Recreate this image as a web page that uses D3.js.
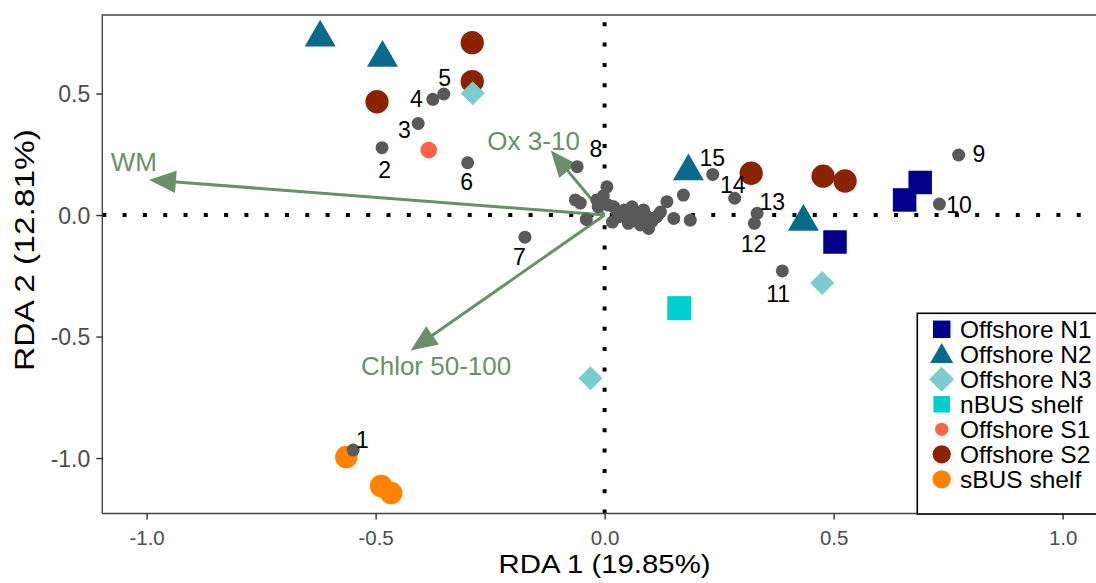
<!DOCTYPE html>
<html><head><meta charset="utf-8">
<script src="https://cdn.jsdelivr.net/npm/d3@7"></script>
<style>
body{margin:0;background:#fff;overflow:hidden}
svg{display:block}
text{font-family:"Liberation Sans",Arial,sans-serif}
</style>
</head><body>
<svg id="chart" width="1096" height="583"></svg>
<script>
// ---------- data ----------
const groups = ["Offshore N1","Offshore N2","Offshore N3","nBUS shelf","Offshore S1","Offshore S2","sBUS shelf"];
const groupColors = ["#00008b","#0a6a8c","#79cdcd","#00ced1","#ff6347","#8b2300","#ff8200"];
const groupShapes = ["square","triangle","diamond","square","circle","circle","circle"];

// site scores (RDA1, RDA2) with group index
const siteGroup = [0,0,0, 1,1,1,1, 3, 4, 5,5,5,5,5,5, 6,6,6, 2,2,2];
const siteX = [0.655,0.689,0.503, -0.621,-0.485,0.183,0.434, 0.163, -0.384, -0.289,-0.289,-0.497,0.320,0.477,0.525, -0.564,-0.488,-0.466, -0.288,0.475,-0.031];
const siteY = [0.062,0.134,-0.111, 0.730,0.647,0.180,-0.028, -0.383, 0.267, 0.709,0.549,0.466,0.172,0.160,0.140, -0.996,-1.115,-1.144, 0.501,-0.280,-0.672];

// labelled species scores
const speciesLabels = ["1","2","3","4","5","6","7","8","9","10","11","12","13","14","15"];
const speciesX = [-0.549,-0.486,-0.407,-0.375,-0.351,-0.299,-0.174,-0.060,0.773,0.731,0.388,0.327,0.333,0.284,0.236];
const speciesY = [-0.967,0.277,0.377,0.476,0.498,0.215,-0.091,0.199,0.247,0.045,-0.230,-0.034,0.007,0.069,0.167];
const labelX = [-0.529,-0.480,-0.437,-0.411,-0.349,-0.301,-0.186,-0.019,0.817,0.774,0.379,0.325,0.366,0.280,0.235];
const labelY = [-0.959,0.153,0.317,0.446,0.531,0.103,-0.206,0.237,0.219,0.009,-0.358,-0.151,0.021,0.089,0.202];

// unlabelled species scores near origin
const otherX = [0.005,-0.003,-0.064,-0.053,-0.040,-0.017,-0.014,0.008,0.020,0.027,0.031,0.039,0.052,0.060,0.065,0.052,0.074,0.085,0.093,0.096,0.104,0.114,0.122,0.136,0.151,0.172,0.187,0.078,0.017,0.043];
const otherY = [0.116,0.078,0.062,0.049,-0.018,0.062,0.033,0.041,0.034,0.014,-0.007,0.008,-0.021,0.034,0.004,-0.034,-0.012,0.021,-0.007,-0.055,-0.025,-0.007,0.012,0.055,-0.014,0.082,-0.021,-0.041,-0.029,0.021];

// environmental vectors
const envNames = ["WM","Ox 3-10","Chlor 50-100"];
const envX = [-0.990,-0.115,-0.420];
const envY = [0.144,0.260,-0.553];
const envLabelX = [-1.028,-0.155,-0.368];
const envLabelY = [0.181,0.267,-0.658];

const xTicks = [-1.0,-0.5,0.0,0.5,1.0];
const yTicks = [-1.0,-0.5,0.0,0.5];
const xTitle = "RDA 1 (19.85%)";
const yTitle = "RDA 2 (12.81%)";

// ---------- layout ----------
const svg = d3.select("#chart");
const pLeft = 102.3, pTop = 15, pBottom = 513.5, pRight = 1117.6;
const x = d3.scaleLinear().domain([-1.0967, 1.12]).range([pLeft, pRight]);
const y = d3.scaleLinear().domain([-1.228, 0.823]).range([pBottom, pTop]);

const arrowColor = "#6b8f6b";
const greyPt = "#595959";

// reference dotted lines
svg.append("line").attr("x1", pLeft).attr("x2", pRight).attr("y1", y(0)).attr("y2", y(0))
  .attr("stroke","#000").attr("stroke-width",4).attr("stroke-dasharray","4 16.3");
svg.append("line").attr("x1", x(0)).attr("x2", x(0)).attr("y1", pBottom).attr("y2", pTop)
  .attr("stroke","#000").attr("stroke-width",4).attr("stroke-dasharray","4 16.3");

// arrows
const headLen = 24, headHalf = 10;
envNames.forEach((n,i) => {
  const x0 = x(0), y0 = y(0), x1 = x(envX[i]), y1 = y(envY[i]);
  const dx = x1-x0, dy = y1-y0, L = Math.hypot(dx,dy), ux = dx/L, uy = dy/L;
  const bx = x1-ux*headLen, by = y1-uy*headLen;
  svg.append("line").attr("x1",x0).attr("y1",y0).attr("x2",bx+ux*2).attr("y2",by+uy*2)
    .attr("stroke",arrowColor).attr("stroke-width",3);
  svg.append("path")
    .attr("d",`M${x1},${y1}L${bx-uy*headHalf},${by+ux*headHalf}L${bx+uy*headHalf},${by-ux*headHalf}Z`)
    .attr("fill",arrowColor).attr("stroke",arrowColor).attr("stroke-width",1.5).attr("stroke-linejoin","miter");
  svg.append("text").attr("x",x(envLabelX[i])).attr("y",y(envLabelY[i]))
    .attr("text-anchor","middle").attr("font-size",26).attr("fill",arrowColor).text(n);
});

// symbol helper
function symbolPath(shape, size){
  if(shape==="square") return d3.symbol(d3.symbolSquare, size*size)();
  if(shape==="triangle") return d3.symbol(d3.symbolTriangle, size*size*Math.sqrt(3)/4)();
  if(shape==="diamond") { const s = size/Math.SQRT2; return d3.symbol(d3.symbolSquare, s*s)(); }
  return d3.symbol(d3.symbolCircle, Math.PI*size*size/4)();
}
const plotSize = {square:23.5, triangle:31, diamond:24, circle:23};
const circleSizes = [null,null,null,null,16.7,23.3,22.5];
const squareSizes = [23.5,null,null,24];

// sites
siteGroup.forEach((g,i) => {
  const shape = groupShapes[g];
  let size = plotSize[shape];
  if(shape==="circle") size = circleSizes[g];
  if(shape==="square") size = squareSizes[g];
  svg.append("path").attr("d",symbolPath(shape,size))
    .attr("transform",`translate(${x(siteX[i])},${y(siteY[i])})` + (shape==="diamond"?" rotate(45)":""))
    .attr("fill",groupColors[g]);
});

// species points
otherX.forEach((v,i) => {
  svg.append("circle").attr("cx",x(v)).attr("cy",y(otherY[i])).attr("r",6.5).attr("fill",greyPt);
});
speciesX.forEach((v,i) => {
  svg.append("circle").attr("cx",x(v)).attr("cy",y(speciesY[i])).attr("r",6.5).attr("fill",greyPt);
});
speciesLabels.forEach((l,i) => {
  svg.append("text").attr("x",x(labelX[i])).attr("y",y(labelY[i]))
    .attr("text-anchor","middle").attr("font-size",23).attr("fill","#000").text(l);
});

// panel border (left, top, bottom)
svg.append("path").attr("d",`M${pRight},${pTop}H${pLeft}V${pBottom}H${pRight}`)
  .attr("fill","none").attr("stroke","#444").attr("stroke-width",1.4);

// x axis ticks
const gx = svg.append("g").attr("transform",`translate(0,${pBottom})`)
  .call(d3.axisBottom(x).tickValues(xTicks).tickSize(6).tickSizeOuter(0).tickFormat(d=>d.toFixed(1)));
gx.select(".domain").remove();
gx.selectAll(".tick line").attr("stroke","#333").attr("stroke-width",1.4);
gx.selectAll(".tick text").attr("font-size",20.5).attr("fill","#4d4d4d").attr("y",0).attr("dy",0)
  .attr("transform","translate(0,31.5)").attr("font-family","Liberation Sans, Arial, sans-serif");

// y axis ticks
const gy = svg.append("g").attr("transform",`translate(${pLeft},0)`)
  .call(d3.axisLeft(y).tickValues(yTicks).tickSize(6).tickSizeOuter(0).tickFormat(d=>d.toFixed(1)));
gy.select(".domain").remove();
gy.selectAll(".tick line").attr("stroke","#333").attr("stroke-width",1.4);
gy.selectAll(".tick text").attr("font-size",23).attr("fill","#4d4d4d").attr("x",-12).attr("dy","0.35em")
  .attr("font-family","Liberation Sans, Arial, sans-serif");

// axis titles
svg.append("text").attr("x",604.5).attr("y",573).attr("text-anchor","middle").attr("font-size",25)
  .attr("textLength",212).attr("lengthAdjust","spacingAndGlyphs").attr("fill","#000").text(xTitle);
svg.append("text").attr("transform","translate(34,250) rotate(-90)").attr("text-anchor","middle").attr("font-size",28)
  .attr("textLength",242).attr("lengthAdjust","spacingAndGlyphs").attr("fill","#000").text(yTitle);

// legend
const lg = svg.append("g");
lg.append("rect").attr("x",917.3).attr("y",313.3).attr("width",300).attr("height",200.7)
  .attr("fill","#fff").attr("stroke","#000").attr("stroke-width",1.6);
const legendSize = {square:17.5, triangle:23, diamond:25, circle:18};
const legendCircle = [null,null,null,null,13.3,18.3,18.3];
const legendSquare = [17.5,null,null,16.5];
groups.forEach((g,i) => {
  const cy = 329.3 + i*25;
  const shape = groupShapes[i];
  let size = legendSize[shape];
  if(shape==="circle") size = legendCircle[i];
  if(shape==="square") size = legendSquare[i];
  lg.append("path").attr("d",symbolPath(shape,size))
    .attr("transform",`translate(941.7,${cy + (shape==="triangle"?2:0)})` + (shape==="diamond"?" rotate(45)":""))
    .attr("fill",groupColors[i]);
  lg.append("text").attr("x",960).attr("y",cy+8.5).attr("font-size",24.5).attr("fill","#000").text(g);
});
</script>
</body></html>
